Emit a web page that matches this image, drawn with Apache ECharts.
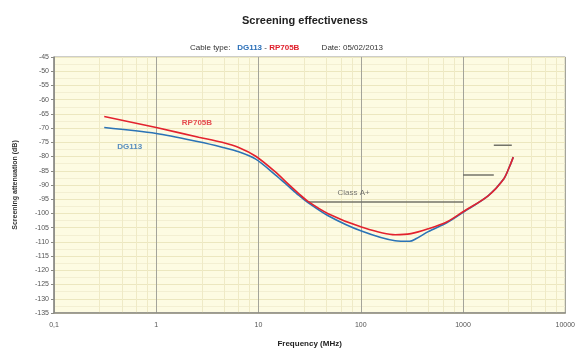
<!DOCTYPE html>
<html>
<head>
<meta charset="utf-8">
<script src="https://cdn.jsdelivr.net/npm/echarts@6/dist/echarts.min.js"></script>
<style>
  html, body { margin: 0; padding: 0; background: #fff; }
  #chart { width: 578px; height: 353px; }
</style>
</head>
<body>
<div id="chart"></div>
<script>
// frequency (MHz) / attenuation (dB)
const redFreq = [0.31, 1, 2.6, 4.4, 6.4, 9.4, 14.7, 19.7, 24.7, 30, 48, 100, 217, 310, 457, 700, 1000, 1760, 2500, 2860, 3100]
const redDb = [-65.9, -69.8, -73.2, -75, -76.8, -79.9, -85.5, -89.8, -93.0, -95.6, -100.1, -104.7, -107.5, -107.1, -105.4, -102.9, -99.4, -93.8, -87.9, -83.4, -80.2]

const blueFreq = [0.31, 1, 2.6, 4.4, 6.4, 9.4, 14.7, 19.7, 24.7, 30, 48, 100, 217, 300, 350, 457, 700, 1000, 1760, 2500, 2860, 3100]
const blueDb = [-69.8, -71.9, -74.8, -76.7, -78.3, -80.9, -86.5, -90.5, -93.6, -96.0, -100.8, -106.1, -109.6, -109.8, -108.8, -106.4, -103.2, -99.6, -93.8, -87.9, -83.4, -80.2]

// Class A+ limit steps: [fromMHz, toMHz, dB]
const limitSteps = [[30, 1000, -96], [1000, 2000, -86.5], [2000, 3000, -76]]

const xTicks = [0.1, 1, 10, 100, 1000, 10000]

const chart = echarts.init(document.getElementById('chart'))

const zip = (xs, ys) => xs.map((x, i) => [x, ys[i]])

const limitSeries = limitSteps.map(s => ({
  type: 'line',
  data: [[s[0], s[2]], [s[1], s[2]]],
  symbol: 'none',
  lineStyle: { color: '#737369', width: 1.6 },
  z: 3
}))

const textSeries = (pt, text, color, bold) => ({
  type: 'scatter',
  data: [pt],
  symbolSize: 0,
  silent: true,
  label: {
    show: true,
    position: 'inside',
    formatter: text,
    color: color,
    fontSize: 8,
    fontWeight: bold ? 'bold' : 'normal',
    fontFamily: 'Liberation Sans'
  },
  z: 5
})

const option = {
  animation: false,
  backgroundColor: '#fff',
  textStyle: { fontFamily: 'Liberation Sans' },
  title: [
    {
      text: 'Screening effectiveness',
      left: 300, top: 10, textAlign: 'center',
      textStyle: { fontSize: 11, fontWeight: 'bold', color: '#222', fontFamily: 'Liberation Sans' }
    },
    {
      text: '{n|Cable type:   }{b|DG113}{n| - }{r|RP705B}{n|          Date: 05/02/2013}',
      left: 185, top: 39,
      textStyle: {
        fontWeight: 'normal',
        rich: {
          n: { fontSize: 8, color: '#333', fontWeight: 'normal', fontFamily: 'Liberation Sans' },
          b: { fontSize: 8, color: '#2a6fb8', fontWeight: 'bold', fontFamily: 'Liberation Sans' },
          r: { fontSize: 8, color: '#e0202c', fontWeight: 'bold', fontFamily: 'Liberation Sans' }
        }
      }
    }
  ],
  grid: {
    left: 54, right: 10, top: 57, bottom: 38,
    show: true,
    backgroundColor: '#fdfbe2',
    borderColor: '#9a9a92',
    borderWidth: 1
  },
  xAxis: {
    type: 'log',
    logBase: 10,
    min: 0.1,
    max: 10000,
    name: 'Frequency (MHz)',
    nameLocation: 'middle',
    nameGap: 27,
    nameTextStyle: { fontSize: 8, fontWeight: 'bold', color: '#222' },
    axisLine: { show: true, lineStyle: { color: '#8a8a84', width: 1.5 } },
    axisTick: { show: false },
    axisLabel: {
      fontSize: 7, color: '#555', margin: 9,
      formatter: v => {
        const t = xTicks.find(k => Math.abs(k - v) / k < 1e-6)
        return t === undefined ? '' : String(t).replace('.', ',')
      }
    },
    splitLine: { show: true, lineStyle: { color: '#a4a49a', width: 1 } },
    minorTick: { show: false, splitNumber: 5 },
    minorSplitLine: { show: true, lineStyle: { color: '#efeac6', width: 1 } }
  },
  yAxis: {
    type: 'value',
    min: -135,
    max: -45,
    interval: 5,
    name: 'Screening attenuation (dB)',
    nameLocation: 'middle',
    nameGap: 35,
    nameTextStyle: { fontSize: 7, fontWeight: 'bold', color: '#333' },
    axisLine: { show: true, lineStyle: { color: '#8a8a84', width: 1.5 } },
    axisTick: { show: true, length: 3, lineStyle: { color: '#8a8a84' } },
    axisLabel: { fontSize: 7, color: '#555', margin: 5 },
    splitLine: { show: true, lineStyle: { color: '#ece7bf', width: 1 } },
    minorTick: { show: false, splitNumber: 2 },
    minorSplitLine: { show: true, lineStyle: { color: '#f3efd2', width: 1 } }
  },
  series: [
    ...limitSeries,
    {
      name: 'DG113',
      type: 'line',
      data: zip(blueFreq, blueDb),
      smooth: 0.3,
      symbol: 'none',
      lineStyle: { color: '#2b73b6', width: 1.6 },
      z: 4
    },
    {
      name: 'RP705B',
      type: 'line',
      data: zip(redFreq, redDb),
      smooth: 0.3,
      symbol: 'none',
      lineStyle: { color: '#e3222e', width: 1.6 },
      z: 4
    },
    textSeries([0.55, -76.4], 'DG113', '#2b6fb5', true),
    textSeries([2.5, -68], 'RP705B', '#e0202c', true),
    textSeries([85, -92.8], 'Class A+', '#555', false)
  ]
}

chart.setOption(option)
</script>
</body>
</html>
